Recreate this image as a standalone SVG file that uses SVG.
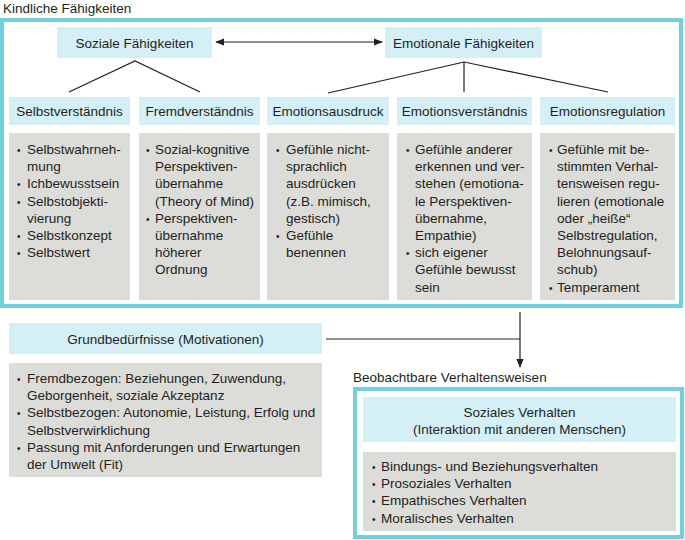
<svg xmlns="http://www.w3.org/2000/svg" width="685" height="540" viewBox="0 0 685 540">
<defs>
<style>
text{font-family:"Liberation Sans",Arial,sans-serif;font-size:13.5px;fill:#231f20}
.frame{fill:none;stroke:#72cfe0;stroke-width:4}
.hd{fill:#d5eff7}
.gy{fill:#dcdcd8}
.c{text-anchor:middle}
.b{font-size:10px}
.ln{stroke:#231f20;stroke-width:1.2;fill:none}
</style>
<marker id="ah" viewBox="0 0 10 10" refX="9" refY="5" markerWidth="9" markerHeight="9" markerUnits="userSpaceOnUse" orient="auto-start-reverse">
<path d="M0,1 L10,5 L0,9 z" fill="#231f20"/>
</marker>
</defs>
<rect width="685" height="540" fill="#fff"/>

<text x="3" y="13">Kindliche Fähigkeiten</text>
<rect class="frame" x="2" y="20" width="679" height="286"/>

<g id="soziale">
<rect class="hd" x="57" y="27" width="155" height="31"/>
<text class="c" x="134.5" y="47.5">Soziale Fähigkeiten</text>
</g>
<g id="emotionale">
<rect class="hd" x="385" y="27" width="157" height="31"/>
<text class="c" x="463.5" y="47.5">Emotionale Fähigkeiten</text>
</g>

<g id="selbstverstaendnis">
<rect class="hd" x="9" y="97" width="121" height="28"/>
<text class="c" x="69.5" y="116">Selbstverständnis</text>
<rect class="gy" x="9" y="133" width="121" height="167"/>
<text x="27" y="154"><tspan class="b" x="17">•</tspan><tspan x="27">Selbstwahrneh-</tspan><tspan x="27" dy="17.2">mung</tspan><tspan class="b" x="17" dy="17.2">•</tspan><tspan x="27">Ichbewusstsein</tspan><tspan class="b" x="17" dy="17.2">•</tspan><tspan x="27">Selbstobjekti-</tspan><tspan x="27" dy="17.2">vierung</tspan><tspan class="b" x="17" dy="17.2">•</tspan><tspan x="27">Selbstkonzept</tspan><tspan class="b" x="17" dy="17.2">•</tspan><tspan x="27">Selbstwert</tspan></text>
</g>

<g id="fremdverstaendnis">
<rect class="hd" x="139" y="97" width="121" height="28"/>
<text class="c" x="199.5" y="116">Fremdverständnis</text>
<rect class="gy" x="139" y="133" width="121" height="167"/>
<text x="155" y="154"><tspan class="b" x="146">•</tspan><tspan x="155">Sozial-kognitive</tspan><tspan x="155" dy="17.2">Perspektiven-</tspan><tspan x="155" dy="17.2">übernahme</tspan><tspan x="155" dy="17.2">(Theory of Mind)</tspan><tspan class="b" x="146" dy="17.2">•</tspan><tspan x="155">Perspektiven-</tspan><tspan x="155" dy="17.2">übernahme</tspan><tspan x="155" dy="17.2">höherer</tspan><tspan x="155" dy="17.2">Ordnung</tspan></text>
</g>

<g id="emotionsausdruck">
<rect class="hd" x="267" y="97" width="122" height="28"/>
<text class="c" x="328" y="116">Emotionsausdruck</text>
<rect class="gy" x="267" y="133" width="122" height="167"/>
<text x="286" y="154"><tspan class="b" x="276">•</tspan><tspan x="286">Gefühle nicht-</tspan><tspan x="286" dy="17.2">sprachlich</tspan><tspan x="286" dy="17.2">ausdrücken</tspan><tspan x="286" dy="17.2">(z.B. mimisch,</tspan><tspan x="286" dy="17.2">gestisch)</tspan><tspan class="b" x="276" dy="17.2">•</tspan><tspan x="286">Gefühle</tspan><tspan x="286" dy="17.2">benennen</tspan></text>
</g>

<g id="emotionsverstaendnis">
<rect class="hd" x="397" y="97" width="135" height="28"/>
<text class="c" x="464.5" y="116">Emotionsverständnis</text>
<rect class="gy" x="397" y="133" width="135" height="167"/>
<text x="415" y="154"><tspan class="b" x="406">•</tspan><tspan x="415">Gefühle anderer</tspan><tspan x="415" dy="17.2">erkennen und ver-</tspan><tspan x="415" dy="17.2">stehen (emotiona-</tspan><tspan x="415" dy="17.2">le Perspektiven-</tspan><tspan x="415" dy="17.2">übernahme,</tspan><tspan x="415" dy="17.2">Empathie)</tspan><tspan class="b" x="406" dy="17.2">•</tspan><tspan x="415">sich eigener</tspan><tspan x="415" dy="17.2">Gefühle bewusst</tspan><tspan x="415" dy="17.2">sein</tspan></text>
</g>

<g id="emotionsregulation">
<rect class="hd" x="540" y="97" width="135" height="28"/>
<text class="c" x="607.5" y="116">Emotionsregulation</text>
<rect class="gy" x="540" y="133" width="135" height="167"/>
<text x="557" y="154"><tspan class="b" x="549">•</tspan><tspan x="557">Gefühle mit be-</tspan><tspan x="557" dy="17.2">stimmten Verhal-</tspan><tspan x="557" dy="17.2">tensweisen regu-</tspan><tspan x="557" dy="17.2">lieren (emotionale</tspan><tspan x="557" dy="17.2">oder „heiße“</tspan><tspan x="557" dy="17.2">Selbstregulation,</tspan><tspan x="557" dy="17.2">Belohnungsauf-</tspan><tspan x="557" dy="17.2">schub)</tspan><tspan class="b" x="549" dy="17.2">•</tspan><tspan x="557">Temperament</tspan></text>
</g>

<g id="grundbeduerfnisse">
<rect class="hd" x="9" y="323" width="313" height="31"/>
<text class="c" x="165.5" y="344">Grundbedürfnisse (Motivationen)</text>
<rect class="gy" x="9" y="363" width="313" height="114"/>
<text x="27" y="383"><tspan class="b" x="17">•</tspan><tspan x="27">Fremdbezogen: Beziehungen, Zuwendung,</tspan><tspan x="27" dy="17.2">Geborgenheit, soziale Akzeptanz</tspan><tspan class="b" x="17" dy="17.2">•</tspan><tspan x="27">Selbstbezogen: Autonomie, Leistung, Erfolg und</tspan><tspan x="27" dy="17.2">Selbstverwirklichung</tspan><tspan class="b" x="17" dy="17.2">•</tspan><tspan x="27">Passung mit Anforderungen und Erwartungen</tspan><tspan x="27" dy="17.2">der Umwelt (Fit)</tspan></text>
</g>

<text x="353" y="382">Beobachtbare Verhaltensweisen</text>
<rect class="frame" x="355" y="389" width="327" height="148"/>

<g id="soziales-verhalten">
<rect class="hd" x="363" y="397" width="313" height="45"/>
<text class="c" x="519.5" y="417">Soziales Verhalten</text>
<text class="c" x="519.5" y="434">(Interaktion mit anderen Menschen)</text>
<rect class="gy" x="363" y="452" width="313" height="79"/>
<text x="381" y="471"><tspan class="b" x="372">•</tspan><tspan x="381">Bindungs- und Beziehungsverhalten</tspan><tspan class="b" x="372" dy="17.2">•</tspan><tspan x="381">Prosoziales Verhalten</tspan><tspan class="b" x="372" dy="17.2">•</tspan><tspan x="381">Empathisches Verhalten</tspan><tspan class="b" x="372" dy="17.2">•</tspan><tspan x="381">Moralisches Verhalten</tspan></text>
</g>

<g id="connectors">
<line class="ln" x1="216" y1="42" x2="382" y2="42" marker-start="url(#ah)" marker-end="url(#ah)"/>
<polyline class="ln" points="69,92 135,61 200,92"/>
<polyline class="ln" points="328,93 464,62 608,92"/>
<line class="ln" x1="464" y1="62" x2="464" y2="92"/>
<line class="ln" x1="326" y1="339" x2="520" y2="339"/>
<line class="ln" x1="520" y1="312" x2="520" y2="367" marker-end="url(#ah)"/>
</g>
</svg>
